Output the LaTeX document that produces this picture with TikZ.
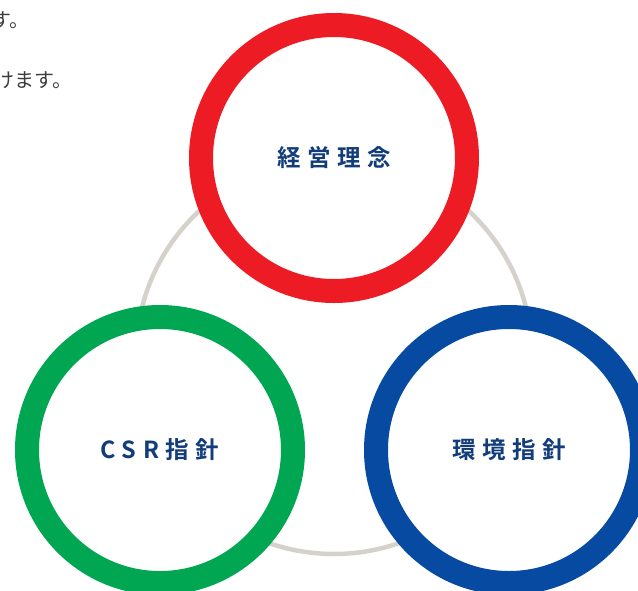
\documentclass[tikz,border=0pt]{standalone}
\usepackage{fontspec}
\newfontfamily\bodyfont{Noto Sans CJK JP}
\newfontfamily\ringfont[LetterSpace=28]{Noto Sans CJK JP Bold}
\definecolor{ringred}{RGB}{237,28,36}
\definecolor{ringgreen}{RGB}{0,166,81}
\definecolor{ringblue}{RGB}{6,74,161}
\definecolor{linkgrey}{RGB}{212,210,202}
\definecolor{labelblue}{RGB}{18,61,122}
\definecolor{bodygrey}{RGB}{60,60,60}

\begin{document}
\begin{tikzpicture}[x=1pt, y=-1pt,
	ring/.style={circle, fill=white, line width=24pt, minimum size=266pt, inner sep=0pt, text=labelblue, font=\ringfont\fontsize{23.5}{23.5}\selectfont},
	body/.style={anchor=west, inner sep=0pt, text=bodygrey, font=\bodyfont\fontsize{20}{20}\selectfont}]
	\useasboundingbox (0, 0) rectangle (638, 590);
	\clip (0, 0) rectangle (638, 590);

	\node[body] at (-9, 20) (lineA) {す。};
	\node[body] at (-6, 80) (lineB) {けます。};

	\coordinate (hub) at (334, 356);
	\draw[linkgrey, line width=4.5pt] (hub) circle (198pt);

	\node[ring, draw=ringred] at (334, 158) (philosophy) {経営理念};
	\node[ring, draw=ringgreen] at (160, 450) (csr) {CSR指針};
	\node[ring, draw=ringblue] at (509, 450) (environment) {環境指針};

\end{tikzpicture}
\end{document}
